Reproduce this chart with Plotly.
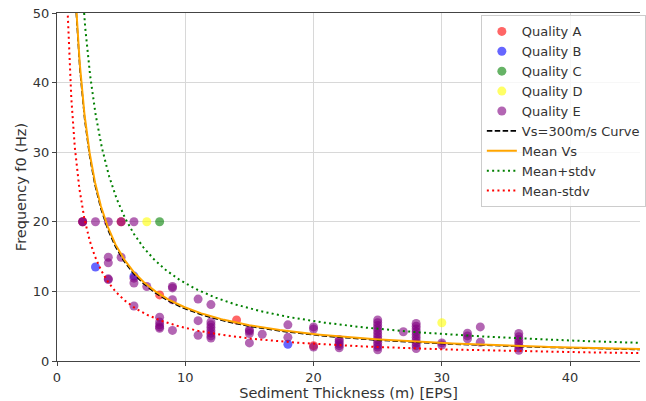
import numpy as np
import plotly.graph_objects as go

# Measured resonance frequency vs. sediment thickness, grouped by quality class
qa_h = [2, 5, 8, 14, 20]
qa_f = [20, 20, 9.5, 5.9, 2.2]

qb_h = [3, 6, 18]
qb_f = [13.5, 12.2, 2.4]

qc_h = [8]
qc_f = [20]

qd_h = [7, 30]
qd_f = [20, 5.5]

qe_h = [2, 2, 3,
        4, 4, 4, 4, 4,
        5, 5,
        6, 6, 6, 6,
        7,
        8, 8, 8, 8, 8,
        9, 9, 9, 9,
        11, 11, 11,
        12, 12, 12, 12, 12, 12, 12, 12,
        15, 15, 15, 15,
        16,
        18, 18,
        20, 20, 20,
        22, 22, 22, 22, 22,
        25, 25, 25, 25, 25, 25, 25, 25, 25, 25, 25, 25,
        27,
        28, 28, 28, 28, 28, 28, 28, 28, 28, 28,
        30, 30,
        32, 32, 32,
        33, 33,
        36, 36, 36, 36, 36, 36, 36]
qe_f = [20, 20, 20,
        20, 14.9, 14.1, 11.8, 11.7,
        20, 14.9,
        20, 11.9, 11.2, 7.9,
        10.7,
        6.3, 5.6, 5.2, 4.9, 4.7,
        10.7, 10.5, 8.8, 4.4,
        8.9, 5.8, 3.7,
        8.1, 5.6, 5.2, 4.8, 4.4, 4.0, 3.6, 3.3,
        4.5, 4.3, 3.95, 2.6,
        3.85,
        5.2, 3.4,
        4.9, 4.6, 2.0,
        3.1, 2.8, 2.5, 2.2, 1.9,
        5.9, 5.5, 5.1, 4.7, 4.3, 3.9, 3.5, 3.1, 2.7, 2.3, 2.0, 1.6,
        4.2,
        5.4, 5.0, 4.6, 4.2, 3.8, 3.4, 3.0, 2.6, 2.2, 1.8,
        2.6, 2.3,
        4.0, 3.6, 3.2,
        4.9, 2.7,
        3.95, 3.5, 3.1, 2.7, 2.3, 1.9, 1.55]

# Reference shear-wave velocity curve f0 = Vs / (4 H)
VS_REF = 300.0
# Fitted power laws f0 = a * H**b for the mean and mean +/- one standard deviation
MEAN_A, MEAN_B = 75.5, -0.992
PLUS_A, PLUS_B = 102.3, -0.962
MINUS_A, MINUS_B = 41.9, -0.945

h_curve = np.geomspace(0.6, 46.0, 500)
f_ref = VS_REF / (4.0 * h_curve)
f_mean = MEAN_A * h_curve ** MEAN_B
f_plus = PLUS_A * h_curve ** PLUS_B
f_minus = MINUS_A * h_curve ** MINUS_B

fig = go.Figure()

groups = [
    ("Quality A", qa_h, qa_f, "red"),
    ("Quality B", qb_h, qb_f, "blue"),
    ("Quality C", qc_h, qc_f, "green"),
    ("Quality D", qd_h, qd_f, "yellow"),
    ("Quality E", qe_h, qe_f, "purple"),
]
for name, hs, fs, col in groups:
    fig.add_trace(go.Scatter(
        x=hs, y=fs, mode="markers", name=name,
        marker=dict(color=col, size=9, opacity=0.6, line=dict(width=0)),
    ))

fig.add_trace(go.Scatter(x=h_curve, y=f_ref, mode="lines", name="Vs=300m/s Curve",
                         line=dict(color="black", width=1.6, dash="5.5px,2.4px")))
fig.add_trace(go.Scatter(x=h_curve, y=f_mean, mode="lines", name="Mean Vs",
                         line=dict(color="orange", width=2)))
fig.add_trace(go.Scatter(x=h_curve, y=f_plus, mode="lines", name="Mean+stdv",
                         line=dict(color="green", width=2, dash="2px,3.3px")))
fig.add_trace(go.Scatter(x=h_curve, y=f_minus, mode="lines", name="Mean-stdv",
                         line=dict(color="red", width=2, dash="2px,3.3px")))

axis_font = dict(family="DejaVu Sans", size=13, color="#333333")
fig.update_layout(
    width=646, height=401,
    margin=dict(l=57, r=0, t=13, b=40),
    paper_bgcolor="white", plot_bgcolor="white",
    font=dict(family="DejaVu Sans", size=13, color="#333333"),
    showlegend=True,
    legend=dict(
        x=0.727, y=0.993, xanchor="left", yanchor="top",
        bgcolor="rgba(255,255,255,0.8)", bordercolor="#cccccc", borderwidth=1,
        font=dict(family="DejaVu Sans", size=13, color="#333333"),
    ),
    xaxis=dict(
        range=[0, 45.45], tickvals=[0, 10, 20, 30, 40],
        showgrid=True, gridcolor="#d8d8d8", gridwidth=1, zeroline=False,
        showline=True, linecolor="#444444", linewidth=1.2, mirror=True,
        ticks="outside", ticklen=4, tickcolor="#444444", tickfont=axis_font,
        title=dict(text="Sediment Thickness (m) [EPS]", standoff=4,
                   font=dict(family="DejaVu Sans", size=14.5, color="#333333")),
        automargin=False,
    ),
    yaxis=dict(
        range=[0, 50], tickvals=[0, 10, 20, 30, 40, 50],
        showgrid=True, gridcolor="#d8d8d8", gridwidth=1, zeroline=False,
        showline=True, linecolor="#444444", linewidth=1.2,
        ticks="outside", ticklen=4, tickcolor="#444444", tickfont=axis_font,
        title=dict(text="Frequency f0 (Hz)", standoff=2,
                   font=dict(family="DejaVu Sans", size=14.5, color="#333333")),
        automargin=False,
    ),
)

fig.write_html("out.html")
